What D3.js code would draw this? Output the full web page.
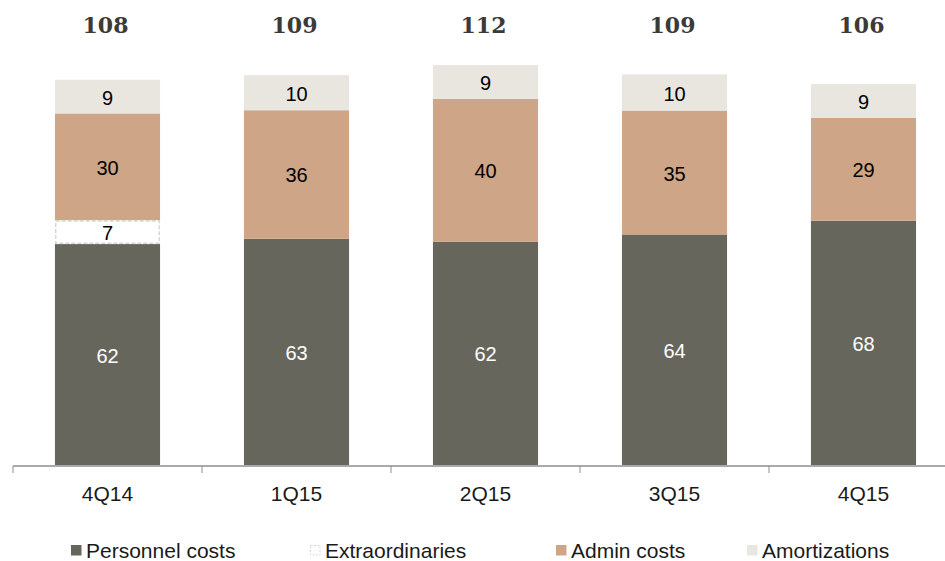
<!DOCTYPE html>
<html><head><meta charset="utf-8">
<script src="https://cdnjs.cloudflare.com/ajax/libs/d3/7.8.5/d3.min.js"></script>
<style>body{margin:0;background:#fff;}svg{display:block;}</style>
</head><body>
<svg id="c" width="945" height="561"></svg>
<script>
const categories = ["4Q14","1Q15","2Q15","3Q15","4Q15"];
const personnel = [61.7, 63.2, 62.4, 64.4, 68.2];
const extraordinaries = [6.7, 0, 0, 0, 0];
const admin = [29.8, 35.9, 39.9, 34.6, 28.8];
const amortizations = [9.4, 9.8, 9.4, 10.1, 9.4];
const seriesNames = ["Personnel costs","Extraordinaries","Admin costs","Amortizations"];

const svg = d3.select("#c");
const x = d3.scaleBand().domain(categories).range([13, 958]).paddingInner(0.444).paddingOuter(0.222);
const y = d3.scaleLinear().domain([0, 120]).range([465, 465 - 120 * 3.58]);

const fills = {"Personnel costs":"#66665c","Extraordinaries":"#ffffff","Admin costs":"#cfa587","Amortizations":"#e9e6e0"};
const textCol = {"Personnel costs":"#ffffff","Extraordinaries":"#000000","Admin costs":"#000000","Amortizations":"#000000"};
const sans = "'Liberation Sans', Arial, sans-serif";

const rows = categories.map((c,i)=>({cat:c,"Personnel costs":personnel[i],"Extraordinaries":extraordinaries[i],"Admin costs":admin[i],"Amortizations":amortizations[i]}));
const stacked = d3.stack().keys(seriesNames)(rows);

const g = svg.append("g");
stacked.forEach(s=>{
  const key = s.key;
  s.forEach(d=>{
    const v = d[1]-d[0];
    if (v <= 0) return;
    const x0 = x(d.data.cat), w = x.bandwidth();
    const r = g.append("rect").attr("x", x0).attr("width", w)
      .attr("y", y(d[1])).attr("height", y(d[0]) - y(d[1]))
      .attr("fill", fills[key]);
    if (key === "Extraordinaries") {
      r.attr("x", x0+0.75).attr("width", w-1.5).attr("y", y(d[1])+0.75).attr("height", y(d[0])-y(d[1])-1.5)
       .attr("stroke","#d6d6d6").attr("stroke-width",1.5).attr("stroke-dasharray","4,2");
    }
    g.append("text").attr("x", x0 + w/2).attr("y", (y(d[0])+y(d[1]))/2 + 1)
      .attr("text-anchor","middle").attr("dominant-baseline","central")
      .attr("font-family",sans).attr("font-size",20)
      .attr("fill", textCol[key]).text(Math.round(v));
  });
});

// totals
rows.forEach((r,i)=>{
  const tot = personnel[i]+extraordinaries[i]+admin[i]+amortizations[i];
  svg.append("text").attr("x", x(r.cat)+x.bandwidth()/2 - 2).attr("y", 25)
    .attr("text-anchor","middle").attr("dominant-baseline","central")
    .attr("font-family","'DejaVu Serif', serif").attr("font-weight","bold").attr("font-size",22)
    .attr("fill","#3c3a36").text(Math.round(tot));
});

// axis
const step = x.step();
const bounds = categories.map(c => x(c) - x.paddingInner()*step/2);
const ax = svg.append("g");
ax.append("line").attr("x1", 13).attr("x2", 945).attr("y1", 466).attr("y2", 466)
  .attr("stroke","#8e8e8e").attr("stroke-width",1.5);
bounds.forEach(b=>{
  ax.append("line").attr("x1", b).attr("x2", b).attr("y1", 466).attr("y2", 473)
    .attr("stroke","#8e8e8e").attr("stroke-width",1);
});
categories.forEach(c=>{
  ax.append("text").attr("x", x(c)+x.bandwidth()/2).attr("y", 493)
    .attr("text-anchor","middle").attr("dominant-baseline","central")
    .attr("font-family",sans).attr("font-size",21)
    .attr("fill","#1a1a1a").text(c);
});

// legend
const legX = [71, 310, 556, 747];
seriesNames.forEach((n,i)=>{
  const lg = svg.append("g").attr("transform",`translate(${legX[i]},550)`);
  const sq = lg.append("rect").attr("x",0).attr("y",-5).attr("width",10.5).attr("height",10.5).attr("fill",fills[n]);
  if (n === "Extraordinaries") sq.attr("x",0.5).attr("y",-4.5).attr("width",9.5).attr("height",9.5).attr("stroke","#d6d6d6").attr("stroke-dasharray","2,1.5");
  lg.append("text").attr("x",15).attr("y",0.5).attr("dominant-baseline","central")
    .attr("font-family",sans).attr("font-size",21)
    .attr("fill","#1a1a1a").text(n);
});
</script>
</body></html>
